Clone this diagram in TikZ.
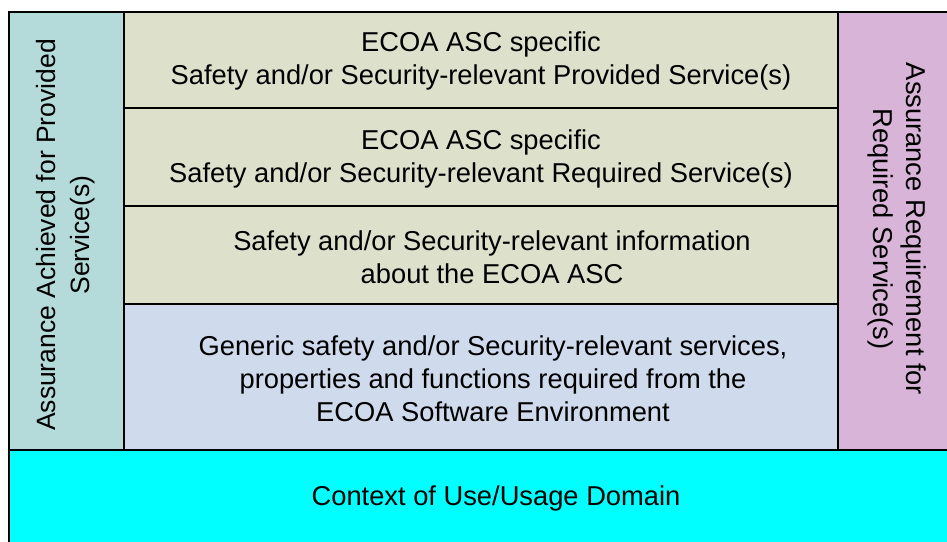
\documentclass[tikz,border=0pt]{standalone}
\usepackage{fontspec}
\setmainfont{Liberation Sans}
\definecolor{tealc}{HTML}{B4DADA}
\definecolor{greenc}{HTML}{DDE1CC}
\definecolor{bluec}{HTML}{CFDAEC}
\definecolor{purplec}{HTML}{D8B4D8}
\definecolor{cyanc}{HTML}{00FFFF}
\tikzset{
  cell/.style={draw=black, line width=1.5pt},
  lbl/.style={align=center, inner sep=0pt, font=\fontsize{27.3}{33}\selectfont},
  lbll/.style={align=center, inner sep=0pt, font=\fontsize{26.5}{34}\selectfont},
}
\begin{document}
\begin{tikzpicture}[x=1pt,y=-1pt]
\useasboundingbox (0,0) rectangle (947,541);
\fill[white] (0,0) rectangle (947,541);
% cells
\draw[cell, fill=tealc] (9,12) rectangle (124,450);
\draw[cell, fill=purplec] (838,12) rectangle (960,450);
\draw[cell, fill=greenc] (124,12) rectangle (838,108);
\draw[cell, fill=greenc] (124,108) rectangle (838,206);
\draw[cell, fill=greenc] (124,206) rectangle (838,304);
\draw[cell, fill=bluec] (124,304) rectangle (838,450);
\draw[cell, fill=cyanc] (9,450) rectangle (960,560);
% texts
\node[lbll, rotate=90] (left) at (66,235) {Assurance Achieved for Provided\\Service(s)};
\node[lbl, rotate=-90] (right) at (897,229) {Assurance Requirement for\\Required Service(s)};
\node[lbl] (r1) at (481,61) {ECOA ASC specific\\Safety and/or Security-relevant Provided Service(s)};
\node[lbl] (r2) at (481,159) {ECOA ASC specific\\Safety and/or Security-relevant Required Service(s)};
\node[lbl] (r3) at (492,257) {Safety and/or Security-relevant information\\about the ECOA ASC};
\node[lbl] (r4) at (493,379) {Generic safety and/or Security-relevant services,\\properties and functions required from the\\ECOA Software Environment};
\node[lbl] (ctx) at (496,498) {Context of Use/Usage Domain};
\end{tikzpicture}
\end{document}
